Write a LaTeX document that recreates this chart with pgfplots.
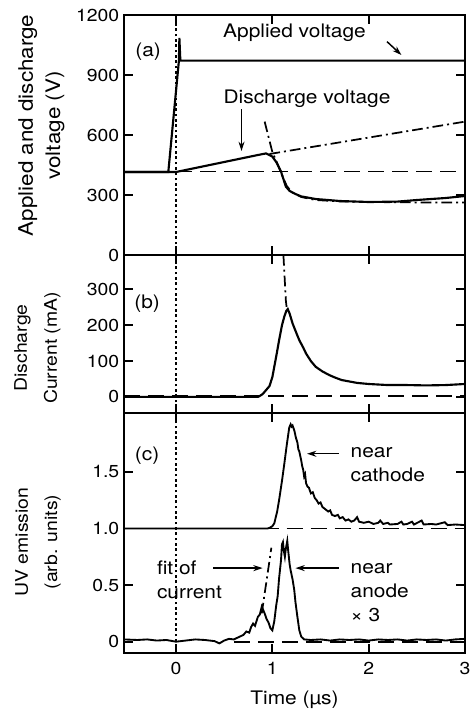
\documentclass[border=0pt]{standalone}
\usepackage{fontspec}
\setmainfont[FakeStretch=1.12]{TeX Gyre Heros}
\usepackage{pgfplots}
\pgfplotsset{compat=1.18}
\usetikzlibrary{arrows.meta}

\pgfplotsset{
  panel/.style={
    scale only axis, width=255.75pt,
    xmin=-0.54, xmax=3,
    xtick={0,1,2,3},
    tick align=inside, xtick pos=both, ytick pos=both,
    yticklabel pos=left,
    major tick length=7pt,
    axis line style={line width=1.8pt},
    tick style={line width=1.4pt, black},
    tick label style={font=\fontsize{13}{15}\selectfont},
    /pgf/number format/assume math mode=true,
    /pgf/number format/1000 sep={},
  },
  data/.style={black, line width=1.6pt},
  base/.style={black, line width=1.3pt, dash pattern=on 12pt off 6pt},
  fit/.style={black, line width=1.3pt, dash pattern=on 8pt off 3pt on 1.5pt off 3pt},
  zero/.style={black, line width=1.2pt, dash pattern=on 2pt off 2pt},
}
\newcommand{\ann}{\fontsize{14}{18}\selectfont}
\tikzset{arr/.style={-{Stealth[length=7pt,width=4.5pt]}, line width=1.1pt},
  ylab/.style={rotate=90, align=center, anchor=center, inner sep=0pt}}

\begin{document}
\begin{tikzpicture}

% (a) applied and discharge voltage
\begin{axis}[panel, at={(93pt,-191.25pt)}, anchor=south west, height=180pt,
  ymin=0, ymax=1200, ytick={0,300,600,900,1200},
  xticklabels={},
]
\addplot[zero] coordinates {(0,0) (0,1200)};
\addplot[base] coordinates {(0,417) (3,417)};
% applied voltage
\addplot[data] coordinates {
(-0.54,415) (-0.08,415) (0.03,972) (0.035,1085) (0.045,972) (3,972)
};
% discharge voltage
\addplot[data] coordinates {
(-0.54,415) (0,415) (0.3,445) (0.6,475) (0.85,500) (0.935,508) (1.0,492)
(1.04,465) (1.09,417) (1.14,342) (1.18,320) (1.24,305) (1.3,293) (1.45,280)
(1.7,270) (2.0,265) (2.3,267) (2.5,275) (2.8,285) (3.0,295)
};
% fits
\addplot[fit] coordinates {(0.97,505) (3,667)};
\addplot[fit] coordinates {
(0.92,667) (1.0,515) (1.05,460) (1.1,400) (1.15,345) (1.2,315) (1.3,290)
(1.45,275) (1.7,268) (2.0,265) (2.5,263) (3.0,262)
};
\node[font=\ann] at (axis cs:-0.29,1017) {(a)};
\node[font=\ann] at (axis cs:1.23,1110) {Applied voltage};
\draw[arr] (axis cs:2.19,1067) -- (axis cs:2.34,1000);
\node[font=\ann] at (axis cs:1.36,783) {Discharge voltage};
\draw[arr] (axis cs:0.68,730) -- (axis cs:0.68,520);
\end{axis}

% (b) discharge current
\begin{axis}[panel, at={(93pt,-309.75pt)}, anchor=south west, height=118.5pt,
  ymin=-45, ymax=396, ytick={0,100,200,300},
  xticklabels={},
]
\addplot[zero] coordinates {(0,-45) (0,396)};
\addplot[base] coordinates {(-0.54,2) (3,2)};
\addplot[data] coordinates {
(-0.54,0) (0.85,0) (0.866,2) (0.9,8) (0.935,19) (0.97,30) (1.0,55) (1.02,84)
(1.045,120) (1.07,158) (1.10,200) (1.124,224) (1.145,240) (1.16,245) (1.18,232)
(1.21,205) (1.25,178) (1.28,158) (1.32,138) (1.35,121) (1.40,100) (1.45,84)
(1.52,71) (1.59,61) (1.65,54) (1.72,47) (1.8,43) (1.88,39) (2.0,36) (2.2,33)
(2.4,33) (2.6,32) (2.8,33) (3.0,36)
};
\addplot[fit] coordinates {(1.115,396) (1.14,270) (1.15,245)};
\node[font=\ann] at (axis cs:-0.3,260) {(b)};
\end{axis}

% (c) UV emission
\begin{axis}[panel, at={(93pt,-489.75pt)}, anchor=south west, height=180pt,
  ymin=-0.1, ymax=2.02, ytick={0,0.5,1,1.5}, yticklabels={0,0.5,1.0,1.5},
  xticklabels={0,1,2,3},
  xticklabel style={yshift=-3pt},
  xlabel={Time (µs)},
  xlabel style={font=\fontsize{14}{17}\selectfont, at={(axis description cs:0.5,0)}, anchor=center, yshift=-35.25pt},
]
\addplot[zero] coordinates {(0,0) (0,2.02)};
\addplot[base] coordinates {(0.9,1.0) (3,1.0)};
\addplot[base] coordinates {(0.6,0) (3,0)};
% near cathode
\addplot[data, line width=1.4pt] coordinates {
(-0.54,1.0) (0.95,1.0) (0.97,1.005) (1.0,1.02) (1.02,1.045) (1.05,1.15) (1.07,1.25)
(1.10,1.42) (1.124,1.57) (1.15,1.74) (1.175,1.89) (1.19,1.92) (1.20,1.90) (1.21,1.91)
(1.23,1.86) (1.245,1.80) (1.26,1.76) (1.27,1.70) (1.28,1.68) (1.30,1.60) (1.31,1.55)
(1.32,1.52) (1.33,1.46) (1.34,1.48) (1.35,1.40) (1.365,1.37) (1.38,1.36) (1.40,1.31)
(1.42,1.32) (1.44,1.27) (1.46,1.25) (1.48,1.22) (1.50,1.23) (1.52,1.19) (1.55,1.17)
(1.58,1.15) (1.60,1.16) (1.62,1.12) (1.65,1.11) (1.68,1.12) (1.70,1.09) (1.73,1.10)
(1.76,1.07) (1.79,1.08) (1.82,1.06) (1.85,1.07) (1.88,1.10) (1.90,1.06) (1.95,1.05)
(2.0,1.06) (2.05,1.04) (2.1,1.05) (2.12,1.07) (2.15,1.04) (2.2,1.05) (2.22,1.035)
(2.3,1.04) (2.34,1.06) (2.36,1.035) (2.4,1.04) (2.45,1.06) (2.47,1.035) (2.55,1.07)
(2.57,1.035) (2.65,1.04) (2.7,1.035) (2.79,1.055) (2.82,1.03) (2.9,1.035) (3.0,1.03)
};
% near anode x3
\addplot[data, line width=1.4pt] coordinates {
(-0.54,0.02) (-0.4,0.015) (-0.3,0.02) (-0.2,0.01) (-0.1,0.015) (0,0.0) (0.1,0.01)
(0.2,0.02) (0.3,0.015) (0.4,0.005) (0.45,-0.015) (0.5,0.01) (0.55,0.025) (0.6,0.02)
(0.65,0.04) (0.7,0.06) (0.73,0.09) (0.76,0.08) (0.78,0.13) (0.80,0.16) (0.82,0.14)
(0.85,0.22) (0.87,0.24) (0.89,0.31) (0.90,0.29) (0.92,0.25) (0.94,0.2) (0.96,0.17)
(0.98,0.12) (1.0,0.1) (1.02,0.18) (1.04,0.32) (1.055,0.40) (1.07,0.56) (1.09,0.72)
(1.10,0.86) (1.11,0.88) (1.12,0.80) (1.13,0.75) (1.14,0.82) (1.155,0.89) (1.165,0.80)
(1.18,0.68) (1.19,0.63) (1.21,0.55) (1.227,0.46) (1.24,0.35) (1.26,0.22) (1.28,0.10)
(1.30,0.045) (1.33,0.02) (1.4,0.015) (1.5,0.02) (1.6,0.01) (1.7,0.02) (1.8,0.015)
(1.9,0.02) (2.0,0.01) (2.1,0.02) (2.2,0.015) (2.3,0.02) (2.4,0.01) (2.5,0.02)
(2.6,0.015) (2.7,0.02) (2.8,0.01) (2.9,0.02) (3.0,0.025)
};
% fit of current
\addplot[fit] coordinates {(0.89,0.25) (0.99,0.83)};
\node[font=\ann] at (axis cs:-0.3,1.646) {(c)};
\node[font=\ann, anchor=west, align=left, inner sep=0pt] at (axis cs:1.81,1.56) {near\\cathode};
\draw[arr] (axis cs:1.69,1.66) -- (axis cs:1.36,1.66);
\node[font=\ann, anchor=west, align=left, inner sep=0pt] at (axis cs:1.81,0.43) {near\\anode\\× 3};
\draw[arr] (axis cs:1.69,0.65) -- (axis cs:1.24,0.65);
\node[font=\ann, anchor=west, align=left, inner sep=0pt] at (axis cs:-0.2,0.545) {fit of\\current};
\draw[arr] (axis cs:0.385,0.65) -- (axis cs:0.9,0.65);
\end{axis}

% y axis titles, placed at the reference's positions
\node[ylab, font=\fontsize{15}{20.5}\selectfont] at (31pt,-94pt) {Applied and discharge\\voltage (V)};
\node[ylab, font=\fontsize{13}{22.5}\selectfont] at (28pt,-261pt) {Discharge\\Current (mA)};
\node[ylab, font=\fontsize{13}{22}\selectfont] at (28.5pt,-406.5pt) {UV emission\\(arb. units)};

\pgfresetboundingbox
\path (0pt,0pt) rectangle (352.5pt,-533.25pt);
\end{tikzpicture}
\end{document}
